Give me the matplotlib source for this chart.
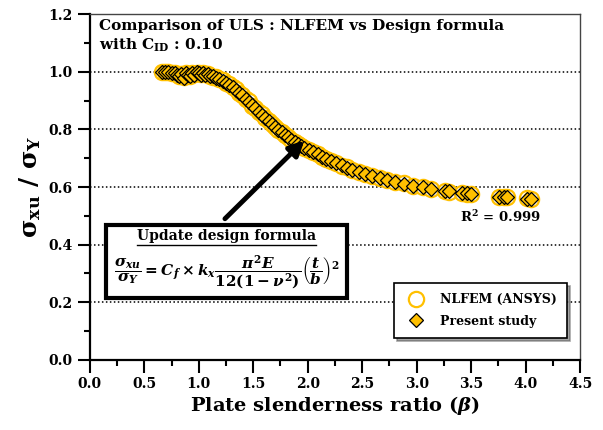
import matplotlib
matplotlib.use("Agg")
import matplotlib.pyplot as plt
from matplotlib.patches import Rectangle
from matplotlib.lines import Line2D
from matplotlib.ticker import MultipleLocator

plt.rcParams['font.family'] = 'DejaVu Serif'
plt.rcParams['font.weight'] = 'bold'
plt.rcParams['axes.labelweight'] = 'bold'
plt.rcParams['mathtext.fontset'] = 'custom'
plt.rcParams['mathtext.rm'] = 'DejaVu Serif:bold'
plt.rcParams['mathtext.bf'] = 'DejaVu Serif:bold'
plt.rcParams['mathtext.it'] = 'DejaVu Serif:italic:bold'

# plate slenderness ratio
beta = [0.66, 0.69, 0.72, 0.75, 0.78, 0.80, 0.82, 0.84, 0.86, 0.88, 0.90, 0.92, 0.94,
        0.96, 0.98, 1.00, 1.02, 1.04, 1.06, 1.08, 1.10, 1.13, 1.16, 1.19, 1.22, 1.25,
        1.28, 1.31, 1.34, 1.37, 1.40, 1.43, 1.46, 1.49, 1.52, 1.55, 1.58, 1.61, 1.64,
        1.67, 1.70, 1.73, 1.76, 1.79, 1.82, 1.85, 1.88, 1.91, 1.94, 1.97, 2.01, 2.05,
        2.09, 2.13, 2.17, 2.21, 2.26, 2.31, 2.36, 2.41, 2.47, 2.53, 2.59, 2.66, 2.73,
        2.80, 2.88, 2.97, 3.06, 3.13, 3.26, 3.30, 3.42, 3.46, 3.50, 3.76, 3.80, 3.83,
        4.01, 4.05]

present = [1.000, 0.999, 0.998, 0.997, 0.995, 0.990, 0.985, 0.993, 0.980, 0.996, 0.990,
           0.985, 0.997, 0.990, 0.998, 0.995, 0.990, 0.996, 0.990, 0.993, 0.986, 0.984,
           0.980, 0.975, 0.969, 0.962, 0.955, 0.947, 0.938, 0.928, 0.918, 0.907, 0.896,
           0.884, 0.873, 0.862, 0.851, 0.840, 0.829, 0.819, 0.809, 0.799, 0.790, 0.781,
           0.773, 0.765, 0.757, 0.750, 0.743, 0.737, 0.729, 0.721, 0.713, 0.706, 0.698,
           0.691, 0.683, 0.675, 0.667, 0.660, 0.652, 0.645, 0.638, 0.631, 0.625, 0.618,
           0.612, 0.605, 0.599, 0.594, 0.587, 0.585, 0.580, 0.578, 0.576, 0.567, 0.566,
           0.565, 0.560, 0.559]

nlfem = [1.000, 0.998, 0.999, 0.996, 0.996, 0.991, 0.987, 0.992, 0.982, 0.995, 0.991,
         0.987, 0.996, 0.991, 0.997, 0.996, 0.991, 0.995, 0.991, 0.992, 0.987, 0.983,
         0.981, 0.974, 0.970, 0.961, 0.956, 0.946, 0.939, 0.927, 0.919, 0.906, 0.897,
         0.883, 0.874, 0.861, 0.852, 0.839, 0.830, 0.818, 0.810, 0.798, 0.791, 0.780,
         0.774, 0.764, 0.758, 0.749, 0.744, 0.736, 0.730, 0.720, 0.714, 0.705, 0.699,
         0.690, 0.684, 0.674, 0.668, 0.659, 0.653, 0.644, 0.639, 0.630, 0.626, 0.617,
         0.613, 0.604, 0.600, 0.593, 0.588, 0.584, 0.581, 0.577, 0.577, 0.566, 0.567,
         0.564, 0.561, 0.558]

fig = plt.figure(figsize=(6.03, 4.30), dpi=100)
ax = fig.add_axes([0.149, 0.163, 0.813, 0.804])

ax.plot(beta, nlfem, 'o', ms=11, mfc='white', mec='#FFC000', mew=1.6,
        label='NLFEM (ANSYS)', zorder=3)
ax.plot(beta, present, 'D', ms=7.0, mfc='#FFC000', mec='black', mew=0.9,
        label='Present study', zorder=4)

ax.set_xlim(0, 4.5)
ax.set_ylim(0, 1.2)
ax.xaxis.set_major_locator(MultipleLocator(0.5))
ax.xaxis.set_minor_locator(MultipleLocator(0.25))
ax.yaxis.set_major_locator(MultipleLocator(0.2))
ax.yaxis.set_minor_locator(MultipleLocator(0.1))
ax.xaxis.set_major_formatter(lambda v, p: f'{v:.1f}')
ax.yaxis.set_major_formatter(lambda v, p: f'{v:.1f}')
ax.tick_params(which='major', direction='out', length=9, width=1.5, labelsize=10)
ax.tick_params(which='minor', direction='out', length=4.5, width=1.5)

for y in [0.2, 0.4, 0.6, 0.8, 1.0]:
    ax.axhline(y, color='black', ls=(0, (1, 1.6)), lw=1.1, zorder=1)

for s in ['left', 'bottom']:
    ax.spines[s].set_linewidth(1.6)
for s in ['top', 'right']:
    ax.spines[s].set_linewidth(1.0)
    ax.spines[s].set_color('#444444')

ax.set_xlabel(r'Plate slenderness ratio ($\beta$)', fontsize=14, labelpad=2)
ax.set_ylabel(r'$\mathrm{\sigma_{xu}\ /\ \sigma_{Y}}$', fontsize=18, labelpad=4)

ax.text(0.018, 0.985, 'Comparison of ULS : NLFEM vs Design formula\nwith C$_{\\mathrm{ID}}$ : 0.10',
        transform=ax.transAxes, ha='left', va='top', fontsize=11, linespacing=1.25)

ax.text(3.4, 0.495, r'R$^{\mathrm{2}}$ = 0.999', fontsize=9.5, ha='left', va='center')

# formula box with arrow
ax.annotate('', xy=(1.97, 0.762), xytext=(1.24, 0.49),
            arrowprops=dict(arrowstyle='-|>', lw=3.5, mutation_scale=22, color='black',
                            shrinkA=0, shrinkB=0), zorder=5)
ax.add_patch(Rectangle((0.033, 0.179), 0.492, 0.211, transform=ax.transAxes,
                       facecolor='white', edgecolor='black', lw=3, zorder=6))
head = ax.text(0.279, 0.358, 'Update design formula', transform=ax.transAxes,
               ha='center', va='center', fontsize=10, zorder=7)
ax.text(0.279, 0.255,
        r'$\dfrac{\sigma_{xu}}{\sigma_{Y}} = C_f \times k_x\dfrac{\pi^2 E}{12(1-\nu^2)}\left(\dfrac{t}{b}\right)^{2}$',
        transform=ax.transAxes, ha='center', va='center', fontsize=11, zorder=7)

fig.canvas.draw()
bb = head.get_window_extent().transformed(ax.transAxes.inverted())
ax.add_line(Line2D([bb.x0, bb.x1], [bb.y0 - 0.004, bb.y0 - 0.004], transform=ax.transAxes,
                   color='black', lw=1.0, zorder=7))

leg = ax.legend(loc='lower right', bbox_to_anchor=(0.973, 0.064), fontsize=9,
                frameon=True, fancybox=False, shadow=True, edgecolor='black',
                handletextpad=0.9, borderpad=0.8, labelspacing=0.7, borderaxespad=0)
leg.get_frame().set_linewidth(1.2)
leg.set_zorder(8)

fig.savefig('out.png', dpi=100)
